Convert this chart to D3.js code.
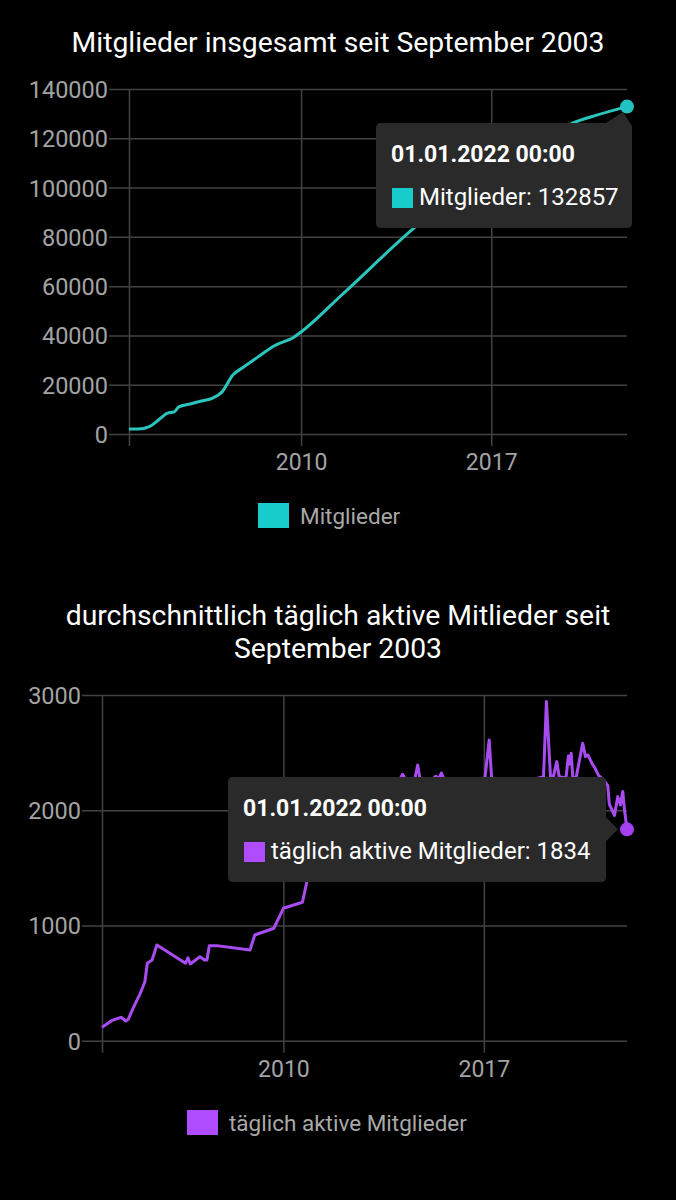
<!DOCTYPE html>
<html><head><meta charset="utf-8">
<script src="https://cdn.jsdelivr.net/npm/d3@7"></script>
<style>
html,body{margin:0;padding:0;background:#000;}
svg{display:block;font-family:Roboto,"Noto Sans",sans-serif;}
</style></head>
<body>
<svg id="c" width="676" height="1200"></svg>
<script>
// ---------- DATA ----------
const membersDates = ["2003-09-01","2004-01-01","2004-06-01","2004-10-01","2005-02-01","2005-05-01","2005-07-01","2005-12-01","2006-05-01","2006-10-01","2007-02-01","2007-07-01","2007-11-01","2008-06-01","2009-01-01","2009-10-01","2010-01-01","2011-07-01","2014-03-01","2015-06-01","2016-09-01","2017-12-01","2019-05-01","2020-01-01","2020-12-01","2022-01-01"];
const membersValues = [2000,2000,3000,5700,8500,9000,11000,12200,13400,14600,17000,24000,26800,31300,35700,39400,41400,56400,83600,95000,105000,114000,122500,126200,129500,132857];

const activeDates = ["2003-09-01","2004-01-01","2004-05-01","2004-07-01","2004-08-01","2004-10-01","2005-01-01","2005-03-01","2005-04-01","2005-06-01","2005-08-01","2006-08-01","2006-09-01","2006-10-01","2007-02-01","2007-04-01","2007-05-01","2007-06-01","2007-09-01","2008-11-01","2009-01-01","2009-09-01","2010-01-01","2010-09-01","2010-11-01","2011-03-01","2011-06-01","2011-10-01","2012-03-01","2012-09-01","2013-03-01","2013-09-01","2014-01-01","2014-03-01","2014-05-01","2014-08-01","2014-09-10","2014-10-15","2015-03-01","2015-05-01","2015-06-01","2015-07-10","2015-08-15","2016-03-01","2016-09-01","2017-01-15","2017-03-10","2017-04-10","2017-09-01","2018-05-01","2018-12-01","2019-02-01","2019-03-10","2019-05-01","2019-06-10","2019-07-20","2019-08-20","2019-11-15","2019-12-15","2020-01-05","2020-01-20","2020-02-10","2020-03-25","2020-06-15","2020-07-20","2020-08-20","2020-10-10","2020-11-20","2021-01-05","2021-03-01","2021-05-01","2021-05-20","2021-07-25","2021-09-05","2021-10-10","2021-11-08","2021-11-30","2022-01-01"];
const activeValues = [116,174,203,171,186,281,411,512,672,700,831,672,720,666,729,700,700,825,825,787,917,976,1149,1201,1395,1700,1850,1950,2050,2120,2170,2200,2230,2312,2240,2260,2393,2250,2260,2295,2270,2323,2260,2240,2250,2280,2610,2280,2220,2250,2280,2290,2943,2290,2300,2422,2290,2280,2470,2400,2494,2280,2290,2581,2465,2480,2408,2364,2300,2270,2214,2054,1955,2118,2046,2162,2003,1834];

const membersTicks = [0,20000,40000,60000,80000,100000,120000,140000];
const activeTicks = [0,1000,2000,3000];
const yearTicks = ["2010","2017"];
const domainStart = "2003-09-01";
const domainEnd = "2022-01-01";

const title1 = "Mitglieder insgesamt seit September 2003";
const title2a = "durchschnittlich täglich aktive Mitlieder seit";
const title2b = "September 2003";
const legend1 = "Mitglieder";
const legend2 = "täglich aktive Mitglieder";
const tooltipTitle = "01.01.2022 00:00";

// ---------- DRAW ----------
const parseD = d3.timeParse("%Y-%m-%d");
const parseY = d3.timeParse("%Y");
const svg = d3.select("#c");
const GRID = "#434343", TICK = "#a3a3a3";

function chart(opt){
  const g = svg.append("g");
  const x = d3.scaleTime().domain([parseD(domainStart), parseD(domainEnd)]).range([opt.left, opt.right]);
  const y = d3.scaleLinear().domain([0, opt.ticks[opt.ticks.length-1]]).range([opt.bottom, opt.top]);

  const ya = g.append("g").attr("transform", `translate(${opt.left-20},0)`)
    .call(d3.axisLeft(y).tickValues(opt.ticks).tickSize(-(opt.right-opt.left+20)).tickPadding(1).tickFormat(d3.format("d")));
  ya.select(".domain").remove();
  ya.selectAll("line").attr("stroke", GRID).attr("stroke-width", 1.5);
  ya.selectAll("text").attr("fill", TICK).attr("font-size", 23.5).attr("font-family","Roboto").attr("dy","0.36em");

  const xv = [parseD(domainStart)].concat(yearTicks.map(parseY));
  const xa = g.append("g").attr("transform", `translate(0,${opt.bottom+12})`)
    .call(d3.axisBottom(x).tickValues(xv).tickSize(-(opt.bottom+12-opt.top)).tickPadding(8)
      .tickFormat((d,i)=> i===0 ? "" : d3.timeFormat("%Y")(d)));
  xa.select(".domain").remove();
  xa.selectAll("line").attr("stroke", GRID).attr("stroke-width", 1.5);
  xa.selectAll("text").attr("fill", TICK).attr("font-size", 23).attr("font-family","Roboto");

  const data = opt.dates.map((d,i)=>({d:parseD(d), v:opt.values[i]}));
  const line = d3.line().x(d=>x(d.d)).y(d=>y(d.v)).curve(opt.curve);
  g.append("path").datum(data).attr("d", line).attr("fill","none")
    .attr("stroke", opt.color).attr("stroke-width", 3).attr("stroke-linejoin","round");

  const last = data[data.length-1];
  const px = x(last.d), py = y(last.v);

  const tt = opt.tt, r = 5, R = tt.x + tt.w, B = tt.y + tt.h;
  let p;
  if (opt.caret === "topright") {
    p = `M${tt.x+r},${tt.y} L${R-26},${tt.y} L${R-9},${tt.y-11} L${R},${tt.y+3} L${R},${B-r} Q${R},${B} ${R-r},${B} L${tt.x+r},${B} Q${tt.x},${B} ${tt.x},${B-r} L${tt.x},${tt.y+r} Q${tt.x},${tt.y} ${tt.x+r},${tt.y} Z`;
  } else {
    p = `M${tt.x+r},${tt.y} L${R-r},${tt.y} Q${R},${tt.y} ${R},${tt.y+r} L${R},${py-12} L${R+12},${py} L${R},${py+12} L${R},${B-r} Q${R},${B} ${R-r},${B} L${tt.x+r},${B} Q${tt.x},${B} ${tt.x},${B-r} L${tt.x},${tt.y+r} Q${tt.x},${tt.y} ${tt.x+r},${tt.y} Z`;
  }
  g.append("path").attr("d", p).attr("fill", "#2a2a2a");
  g.append("text").attr("x", tt.x+15).attr("y", tt.y+39).attr("fill","#fff")
    .attr("font-size", 23).attr("font-weight","bold").attr("font-family","Roboto").text(tooltipTitle);
  g.append("rect").attr("x", tt.x+16).attr("y", tt.y+65).attr("width",21).attr("height",20).attr("fill", opt.legendColor);
  g.append("text").attr("x", tt.x+43).attr("y", tt.y+82).attr("fill","#fff")
    .attr("font-size", 24).attr("font-family","Roboto").text(opt.ttLabel + ": " + last.v);

  g.append("circle").attr("cx", px).attr("cy", py).attr("r", 7).attr("fill", opt.dotColor);

  g.append("rect").attr("x", opt.lg.x).attr("y", opt.lg.y).attr("width", 31).attr("height", 25).attr("fill", opt.legendColor);
  g.append("text").attr("x", opt.lg.x+42).attr("y", opt.lg.y+21).attr("fill", "#a8a8a8")
    .attr("font-size", 22.5).attr("font-family","Roboto").text(opt.legendText);
}

function title(txt, yb){
  svg.append("text").attr("x", 338).attr("y", yb).attr("text-anchor","middle")
    .attr("fill","#fff").attr("font-size", 28.3).attr("font-family","Roboto").text(txt);
}

title(title1, 52);
chart({left:129, right:627, top:89, bottom:434, ticks:membersTicks, dates:membersDates, values:membersValues,
  curve:d3.curveMonotoneX, color:"#2ac6bd", dotColor:"#20c2c2", legendColor:"#18cccc",
  tt:{x:376,y:123,w:256,h:105}, caret:"topright", ttLabel:legend1,
  lg:{x:258,y:503}, legendText:legend1});

title(title2a, 625);
title(title2b, 658);
chart({left:102, right:627, top:695, bottom:1040.7, ticks:activeTicks, dates:activeDates, values:activeValues,
  curve:d3.curveLinear, color:"#a84cf2", dotColor:"#a540f0", legendColor:"#b04cff",
  tt:{x:228,y:777,w:378,h:105}, caret:"right", ttLabel:legend2,
  lg:{x:187,y:1110}, legendText:legend2});
</script>
</body></html>
